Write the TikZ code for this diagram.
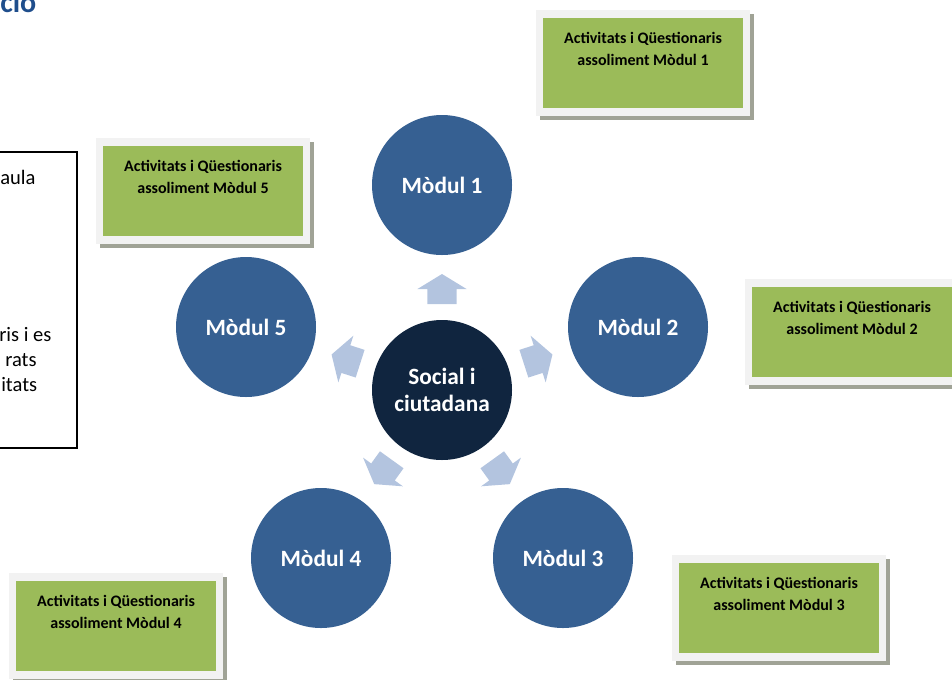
\documentclass[tikz,border=0pt]{standalone}
\usepackage{fontspec}
\setmainfont{Carlito}
\usetikzlibrary{calc}
\definecolor{modblue}{HTML}{366092}
\definecolor{navy}{HTML}{10253F}
\definecolor{arrowblue}{HTML}{B3C4DF}
\definecolor{boxgreen}{HTML}{9BBB59}
\definecolor{framegray}{HTML}{F2F2F2}
\definecolor{shadowgray}{HTML}{A0A396}
\definecolor{titleblue}{HTML}{1F4E8C}
\newcommand\actbox[4]{%
  \fill[shadowgray] (#2-3,#3-4) rectangle (#2+211,#3+102);
  \fill[framegray] (#2-7,#3-8) rectangle (#2+207,#3+98);
  \node[greenbox, anchor=north west] (#1) at (#2,#3) {};
  \node[boxtext] (#1txt) at (#2+100,#3+31) {Activitats i Qüestionaris\\assoliment Mòdul #4};
}
\newcommand\blockarr[2]{%
  \coordinate (#1a) at ($(C.center)!64.5pt!(#2.center)$);
  \coordinate (#1b) at ($(C.center)!75.75pt!(#2.center)$);
  \coordinate (#1t) at ($(C.center)!87pt!(#2.center)$);
  \fill[arrowblue] ($(#1a)!10.9pt!90:(#2.center)$) -- ($(#1b)!10.9pt!90:(#2.center)$)
    -- ($(#1b)!18.4pt!90:(#2.center)$) -- (#1t) -- ($(#1b)!18.4pt!-90:(#2.center)$)
    -- ($(#1b)!10.9pt!-90:(#2.center)$) -- ($(#1a)!10.9pt!-90:(#2.center)$) -- cycle;
}
\begin{document}
\begin{tikzpicture}[x=0.75pt,y=-0.75pt,
  modcircle/.style={circle, fill=modblue, minimum size=105pt, inner sep=0pt, text=white,
    font=\fontsize{17.5}{21}\selectfont\bfseries},
  centercircle/.style={circle, fill=navy, minimum size=105pt, inner sep=0pt, text=white, align=center,
    font=\fontsize{17.5}{20.6}\selectfont\bfseries},
  greenbox/.style={rectangle, fill=boxgreen, minimum width=150pt, minimum height=67.5pt, inner sep=0pt},
  boxtext/.style={align=center, inner sep=0pt, font=\fontsize{12}{16.5}\selectfont\bfseries},
  sidetext/.style={anchor=base west, inner sep=0pt, font=\fontsize{15.4}{18.75}\selectfont},
]
\useasboundingbox (0,0) rectangle (952,679);
\clip (0,0) rectangle (952,679);

% title fragment
\node[anchor=base west, inner sep=0pt, text=titleblue, font=\fontsize{22.5}{27}\selectfont\bfseries] (title) at (0,12) {cio};

% left text box
\draw[line width=0.9pt] (-5,152) rectangle (77,448);
\node[sidetext] (t1) at (0,184) {aula};
\node[sidetext] (t2) at (-1,341) {ris i es};
\node[sidetext] (t3) at (5,366) {rats};
\node[sidetext] (t4) at (1,391) {itats};

% green boxes
\actbox{b1}{543}{18}{1}
\actbox{b5}{103}{146}{5}
\actbox{b2}{752}{287}{2}
\actbox{b3}{679}{563}{3}
\actbox{b4}{16}{581}{4}

% circles
\node[centercircle] (C) at (442,390) {Social i\\ciutadana};
\node[modcircle] (M1) at (442,185) {Mòdul 1};
\node[modcircle] (M2) at (638,327) {Mòdul 2};
\node[modcircle] (M3) at (563,558) {Mòdul 3};
\node[modcircle] (M4) at (321,558) {Mòdul 4};
\node[modcircle] (M5) at (246,327) {Mòdul 5};

% block arrows
\blockarr{A1}{M1}
\blockarr{A2}{M2}
\blockarr{A3}{M3}
\blockarr{A4}{M4}
\blockarr{A5}{M5}
\end{tikzpicture}
\end{document}
